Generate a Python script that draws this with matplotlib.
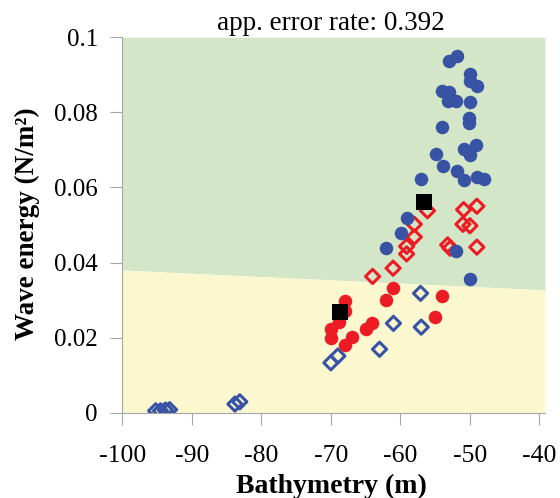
import matplotlib
matplotlib.use('Agg')
import matplotlib.pyplot as plt
import numpy as np

my_dpi = 100

#group 1 (blue, filled) - classified correctly
blue_circ_x = [-51.9, -52.95, -50.0, -50.0, -49.0, -54.0, -53.0, -53.1, -52.0, -50.0,
               -50.1, -50.1, -54.0, -49.1, -50.8, -54.9, -50.0, -53.9, -51.9, -50.9,
               -49.0, -48.0, -57.0, -59.0, -59.9, -62.0, -52.0, -50.0]
blue_circ_y = [0.0949, 0.0938, 0.0902, 0.0883, 0.0871, 0.0857, 0.0853, 0.0829, 0.0829, 0.0827,
               0.0785, 0.0772, 0.0761, 0.0714, 0.0703, 0.0689, 0.0687, 0.0656, 0.0643, 0.0621,
               0.0629, 0.0622, 0.0623, 0.0519, 0.0478, 0.0440, 0.0432, 0.0355]

#group 1 misclassified (blue, open)
blue_dia_x = [-57.1, -61.0, -57.0, -63.0, -69.0, -70.0, -95.2, -94.5, -93.8, -93.2, -83.8, -83.1]
blue_dia_y = [0.0318, 0.0238, 0.0228, 0.0169, 0.0151, 0.0133, 0.0005, 0.0005, 0.0007, 0.0008, 0.0023, 0.0029]

#group 2 (red, filled)
red_circ_x = [-68.0, -68.0, -61.0, -62.0, -54.0, -55.0, -68.9, -70.0, -70.0, -64.1, -64.9, -67.0, -68.0]
red_circ_y = [0.0297, 0.0271, 0.0331, 0.0299, 0.0312, 0.0254, 0.0241, 0.0224, 0.0199, 0.0238, 0.0222, 0.0201, 0.0180]

#group 2 misclassified (red, open)
red_dia_x = [-56.1, -50.9, -49.0, -58.0, -51.0, -50.0, -58.0, -59.1, -59.1, -53.2, -52.85, -49.0, -61.05, -64.0]
red_dia_y = [0.0538, 0.0541, 0.0550, 0.0502, 0.0502, 0.0498, 0.0468, 0.0443, 0.0423, 0.0447, 0.0438, 0.0441, 0.0385, 0.0363]

#group centroids
cent_x = [-56.55, -68.7]
cent_y = [0.0562, 0.0267]

#decision boundary, given at the ends of the x range
bound_x = [-100, -39.2]
bound_y = [0.0380, 0.0327]

x_ticks = [-100, -90, -80, -70, -60, -50, -40]
y_ticks = [0, 0.02, 0.04, 0.06, 0.08, 0.1]
y_tick_labels = ['0', '0.02', '0.04', '0.06', '0.08', '0.1']
err_rate = 0.392

blue = '#3953a4'
red = '#ed1c24'
grey = '#a6a6a6'

plt.rcParams['font.family'] = ['Liberation Serif', 'DejaVu Serif']
plt.rcParams['axes.unicode_minus'] = False

fig = plt.figure(figsize=(560/my_dpi, 498/my_dpi), dpi=my_dpi)
ax = fig.add_axes([122.3/560, 85.3/498, 422.7/560, 375.4/498])

#coloured regions either side of the boundary
ax.fill_between(bound_x, bound_y, 0.1, color='#d3e7c8', lw=0, zorder=0)
ax.fill_between(bound_x, 0, bound_y, color='#fbf8d0', lw=0, zorder=0)

ax.scatter(blue_dia_x, blue_dia_y, s=52, marker='D', facecolors='none',
           edgecolors=blue, linewidths=2.2, zorder=2)
ax.scatter(red_dia_x, red_dia_y, s=52, marker='D', facecolors='none',
           edgecolors=red, linewidths=2.2, zorder=3)
ax.scatter(red_circ_x, red_circ_y, s=95, marker='o', color=red, lw=0, zorder=4)
ax.scatter(blue_circ_x, blue_circ_y, s=95, marker='o', color=blue, lw=0, zorder=5)
ax.scatter(cent_x, cent_y, s=120, marker='s', color='black', lw=0, zorder=6)

ax.set_xlim(-100, -39.2)
ax.set_ylim(0, 0.1)
ax.set_xticks(x_ticks)
ax.set_yticks(y_ticks)
ax.set_yticklabels(y_tick_labels)
ax.tick_params(axis='both', direction='out', length=8.5, width=0.8, color=grey,
               labelsize=18, pad=9)
ax.tick_params(axis='x', labelsize=18.5, pad=15)

for side in ['top', 'right']:
    ax.spines[side].set_visible(False)
for side in ['left', 'bottom']:
    ax.spines[side].set_color(grey)
    ax.spines[side].set_linewidth(0.8)

fig.text(331/560, 1 - 30/498, 'app. error rate: {}'.format(err_rate),
         ha='center', va='baseline', fontsize=19.5)
fig.text(331/560, 1 - 486/498, 'Bathymetry (m)', ha='center', va='center',
         fontsize=20, fontweight='bold')
fig.text(27/560, 1 - 224/498, 'Wave energy (N/m²)', ha='center', va='center',
         rotation=90, fontsize=19.5, fontweight='bold')

plt.savefig('out.png', dpi=my_dpi)
